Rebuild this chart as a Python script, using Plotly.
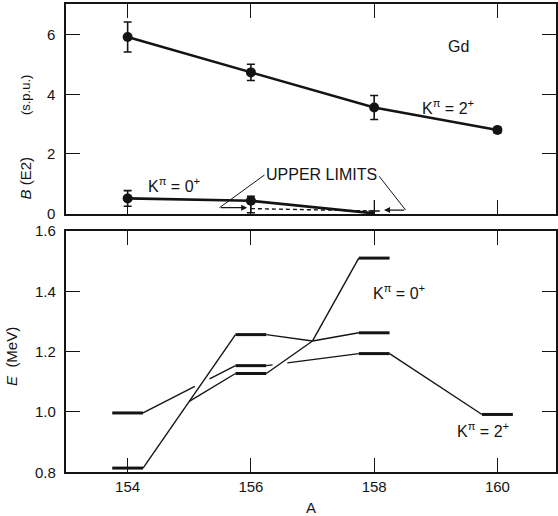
import plotly.graph_objects as go

# ---------------- B(E2) strengths (s.p.u.) ----------------
A_k2 = [154, 156, 158, 160]
be2_k2 = [5.9, 4.72, 3.55, 2.8]
be2_k2_err = [0.5, 0.27, 0.4, 0.1]

A_k0 = [154, 156]
be2_k0 = [0.52, 0.44]
be2_k0_err_up = [0.26, 0.15]
be2_k0_err_dn = [0.26, 0.40]

# K=0+ trend continued to the 158 upper limit
A_k0_trend = [154, 156, 158]
be2_k0_trend = [0.52, 0.44, 0.02]

# upper limits
A_limit = [156, 158]
be2_limit = [0.18, 0.10]

# ---------------- level energies (MeV) ----------------
A_gamma = [154, 156, 158, 160]
E_gamma = [0.996, 1.153, 1.193, 0.991]          # K=2+ band

A_beta_a = [154, 156, 158]
E_beta_a = [0.813, 1.256, 1.262]                # K=0+ band (upper branch)
A_beta_b = [156, 158]
E_beta_b = [1.127, 1.510]                       # K=0+ band (lower branch)
A_cross, E_cross = 157, 1.235                   # where the two K=0+ branches cross
A_branch = 155                                  # lower branch splits off here

# ---------------- ticks ----------------
A_ticks = [154, 156, 158, 160]
be2_ticks = [0, 2, 4, 6]
E_ticks = [0.8, 1.0, 1.2, 1.4, 1.6]

HW = 0.25      # half width of a level bar, in A units
GAP = 0.12     # half width of the break where lines cross

FONT = "Liberation Sans"
INK = "#141414"

fig = go.Figure()

# ---------- upper panel ----------
fig.add_trace(go.Scatter(
    x=A_k2, y=be2_k2, mode="lines+markers", xaxis="x", yaxis="y",
    line=dict(color=INK, width=2.4),
    marker=dict(size=10, color=INK),
    error_y=dict(type="data", array=be2_k2_err, color=INK, thickness=1.6, width=4),
    showlegend=False))

fig.add_trace(go.Scatter(
    x=A_k0_trend, y=be2_k0_trend, mode="lines", xaxis="x", yaxis="y",
    line=dict(color=INK, width=2.6), showlegend=False))

fig.add_trace(go.Scatter(
    x=A_limit, y=be2_limit, mode="lines", xaxis="x", yaxis="y",
    line=dict(color=INK, width=1.4, dash="4px,3px"), showlegend=False))

fig.add_trace(go.Scatter(
    x=A_k0, y=be2_k0, mode="markers", xaxis="x", yaxis="y",
    marker=dict(size=10, color=INK),
    error_y=dict(type="data", symmetric=False, array=be2_k0_err_up,
                 arrayminus=be2_k0_err_dn, color=INK, thickness=1.6, width=4),
    showlegend=False))

# small limit tick at the last limit point
fig.add_trace(go.Scatter(
    x=A_limit[-1:], y=be2_limit[-1:], mode="markers", xaxis="x", yaxis="y",
    marker=dict(symbol="line-ew-open", size=8, color=INK,
                line=dict(color=INK, width=1.5)),
    error_y=dict(type="data", symmetric=False, array=[0.36], arrayminus=[0.1],
                 color=INK, thickness=1, width=0),
    showlegend=False))


# ---------- lower panel ----------
def seg_intersect(p1, p2, q1, q2):
    (x1, y1), (x2, y2) = p1, p2
    (x3, y3), (x4, y4) = q1, q2
    d = (x2 - x1) * (y4 - y3) - (y2 - y1) * (x4 - x3)
    if abs(d) < 1e-12:
        return None
    t = ((x3 - x1) * (y4 - y3) - (y3 - y1) * (x4 - x3)) / d
    u = ((x3 - x1) * (y2 - y1) - (y3 - y1) * (x2 - x1)) / d
    if 0 < t < 1 and 0 < u < 1:
        return t
    return None


def chain_segments(nodes):
    """nodes: list of (A, E, is_level). Returns connecting segments."""
    segs = []
    for (a0, e0, l0), (a1, e1, l1) in zip(nodes[:-1], nodes[1:]):
        xs = a0 + HW if l0 else a0
        xe = a1 - HW if l1 else a1
        segs.append(((xs, e0), (xe, e1)))
    return segs


gamma_nodes = [(a, e, True) for a, e in zip(A_gamma, E_gamma)]
beta_a_nodes = [(A_beta_a[0], E_beta_a[0], True), (A_beta_a[1], E_beta_a[1], True),
                (A_cross, E_cross, False), (A_beta_a[2], E_beta_a[2], True)]
beta_b_nodes = [(A_beta_b[0], E_beta_b[0], True), (A_cross, E_cross, False),
                (A_beta_b[1], E_beta_b[1], True)]

gamma_segs = chain_segments(gamma_nodes)
beta_segs = chain_segments(beta_a_nodes) + chain_segments(beta_b_nodes)

# branch leaving the first K=0+ line toward the lower 156 level
(bx0, by0), (bx1, by1) = beta_segs[0]
e_branch = by0 + (by1 - by0) * (A_branch - bx0) / (bx1 - bx0)
beta_segs.append(((A_branch, e_branch), (A_beta_b[0] - HW, E_beta_b[0])))

# break the K=2+ lines where the K=0+ lines pass over them
gamma_pieces = []
for p, q in gamma_segs:
    cuts = []
    for r, s in beta_segs:
        t = seg_intersect(p, q, r, s)
        if t is not None:
            cuts.append(t)
    dt = GAP / (q[0] - p[0])
    ts = [0.0]
    for t in sorted(cuts):
        ts += [t - dt, t + dt]
    ts.append(1.0)
    for t0, t1 in zip(ts[0::2], ts[1::2]):
        gamma_pieces.append(((p[0] + (q[0] - p[0]) * t0, p[1] + (q[1] - p[1]) * t0),
                             (p[0] + (q[0] - p[0]) * t1, p[1] + (q[1] - p[1]) * t1)))


def seg_xy(segs):
    xs, ys = [], []
    for (x0, y0), (x1, y1) in segs:
        xs += [x0, x1, None]
        ys += [y0, y1, None]
    return xs, ys


lx, ly = seg_xy(gamma_pieces + beta_segs)
fig.add_trace(go.Scatter(x=lx, y=ly, mode="lines", xaxis="x2", yaxis="y2",
                         line=dict(color=INK, width=1.4), showlegend=False))

levels = list(zip(A_gamma, E_gamma)) + list(zip(A_beta_a, E_beta_a)) + list(zip(A_beta_b, E_beta_b))
bx, by = seg_xy([((a - HW, e), (a + HW, e)) for a, e in levels])
fig.add_trace(go.Scatter(x=bx, y=by, mode="lines", xaxis="x2", yaxis="y2",
                         line=dict(color=INK, width=3), showlegend=False))

# ---------- upper-limit callout ----------
ul_text_x, ul_text_y = 157.14, 1.33
left_tail = (A_limit[0] - 0.51, be2_limit[0] + 0.03)
right_tail = (A_limit[1] + 0.51, be2_limit[1] + 0.03)
fig.add_trace(go.Scatter(
    x=[156.22, left_tail[0], None, 158.08, right_tail[0]],
    y=[1.30, left_tail[1], None, 1.26, right_tail[1]],
    mode="lines", xaxis="x", yaxis="y",
    line=dict(color=INK, width=1), showlegend=False))

annotations = [
    dict(x=left_tail[0] + 0.45, y=left_tail[1], ax=left_tail[0], ay=left_tail[1],
         xref="x", yref="y", axref="x", ayref="y", showarrow=True,
         arrowhead=2, arrowsize=1, arrowwidth=1.2, arrowcolor=INK, text=""),
    dict(x=right_tail[0] - 0.35, y=right_tail[1], ax=right_tail[0], ay=right_tail[1],
         xref="x", yref="y", axref="x", ayref="y", showarrow=True,
         arrowhead=2, arrowsize=1, arrowwidth=1.2, arrowcolor=INK, text=""),
    dict(x=ul_text_x, y=ul_text_y, xref="x", yref="y", text="UPPER LIMITS",
         showarrow=False, font=dict(size=16)),
    dict(x=159.37, y=5.57, xref="x", yref="y", text="Gd", showarrow=False,
         font=dict(size=16)),
    dict(x=159.2, y=3.57, xref="x", yref="y", text="K<sup>π</sup> = 2<sup>+</sup>",
         showarrow=False, font=dict(size=16)),
    dict(x=154.76, y=0.95, xref="x", yref="y", text="K<sup>π</sup> = 0<sup>+</sup>",
         showarrow=False, font=dict(size=16)),
    dict(x=158.40, y=1.398, xref="x2", yref="y2", text="K<sup>π</sup> = 0<sup>+</sup>",
         showarrow=False, font=dict(size=16)),
    dict(x=159.76, y=0.939, xref="x2", yref="y2", text="K<sup>π</sup> = 2<sup>+</sup>",
         showarrow=False, font=dict(size=16)),
    # axis titles
    dict(x=-0.083, y=0.628, xref="paper", yref="paper", text="<i>B</i> (E2)",
         textangle=-90, showarrow=False, xanchor="center", yanchor="middle",
         font=dict(size=15)),
    dict(x=-0.083, y=0.806, xref="paper", yref="paper", text="(s.p.u.)",
         textangle=-90, showarrow=False, xanchor="center", yanchor="middle",
         font=dict(size=13)),
    dict(x=-0.110, y=0.246, xref="paper", yref="paper", text="<i>E</i>  (MeV)",
         textangle=-90, showarrow=False, xanchor="center", yanchor="middle",
         font=dict(size=15)),
]

# y tick labels, right-aligned just left of the frame
for v in be2_ticks:
    annotations.append(dict(x=-0.019, y=v, xref="paper", yref="y", text=f"{v:d}",
                            showarrow=False, xanchor="right", yanchor="middle",
                            font=dict(size=15)))
for v in E_ticks:
    annotations.append(dict(x=-0.017, y=v, xref="paper", yref="y2", text=f"{v:.1f}",
                            showarrow=False, xanchor="right", yanchor="middle",
                            font=dict(size=15)))

axis_common = dict(
    showgrid=False, zeroline=False, showline=True, linecolor=INK, linewidth=1.5,
    mirror="ticks", ticks="inside", ticklen=14, tickwidth=1.2, tickcolor=INK,
    tickfont=dict(size=15, color=INK),
)

fig.update_layout(
    width=558, height=516,
    margin=dict(l=66, r=0, t=4, b=44),
    paper_bgcolor="white", plot_bgcolor="white",
    font=dict(family=FONT, color=INK),
    xaxis=dict(axis_common, domain=[0, 1], anchor="y", range=[153, 160.95],
               tickvals=A_ticks, showticklabels=False),
    yaxis=dict(axis_common, domain=[0.5513, 1], anchor="x", range=[0, 7],
               tickvals=be2_ticks, showticklabels=False),
    xaxis2=dict(axis_common, domain=[0, 1], anchor="y2", range=[153, 160.95],
                tickvals=A_ticks,
                title=dict(text="A", font=dict(size=15), standoff=9)),
    yaxis2=dict(axis_common, domain=[0, 0.515], anchor="x2", range=[0.8, 1.6],
                tickvals=E_ticks, showticklabels=False),
    annotations=annotations,
)

fig.write_html("out.html")
